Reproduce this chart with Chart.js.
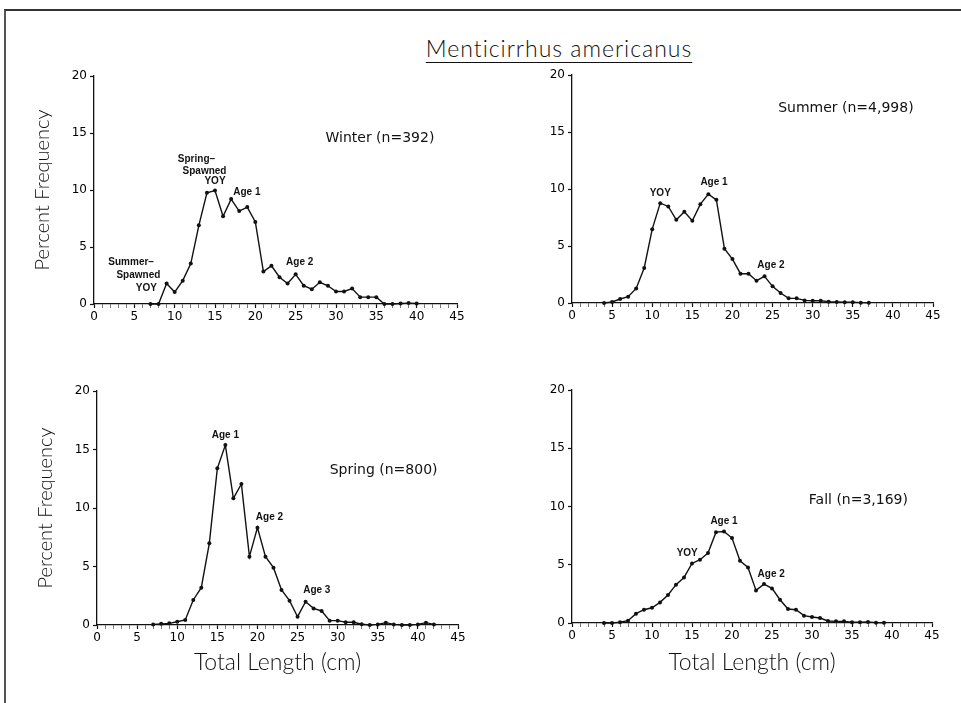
<!DOCTYPE html>
<html>
<head>
<meta charset="utf-8">
<title>Menticirrhus americanus</title>
<script src="https://cdn.jsdelivr.net/npm/chart.js@4.4.0/dist/chart.umd.min.js"></script>
<style>
  html, body { margin: 0; padding: 0; background: #fff; }
  body { width: 961px; height: 703px; position: relative; overflow: hidden; }
  #frame { position: absolute; left: 4px; top: 9px; width: 980px; height: 720px;
           border-top: 2px solid #333; border-left: 2px solid #555; }
  #title { position: absolute; left: 0; width: 1118px; top: 34px; text-align: center;
           font: 300 23px Lato, sans-serif; letter-spacing: 1px; color: #111; text-decoration: underline;
           text-underline-offset: 5px; text-decoration-thickness: 1px; }
  canvas { position: absolute; }
</style>
</head>
<body>
<div id="frame"></div>
<div id="title">Menticirrhus americanus</div>
<canvas id="winter"></canvas>
<canvas id="summer"></canvas>
<canvas id="spring"></canvas>
<canvas id="fall"></canvas>
<script>
// percent frequency by 1-cm total length class, first class given by *Start
const winterStart = 7;
const winterPct = [0, 0, 1.8, 1.05, 2.05, 3.55, 6.9, 9.75, 9.95, 7.7, 9.2, 8.15, 8.5, 7.2,
  2.85, 3.35, 2.35, 1.8, 2.6, 1.6, 1.3, 1.9, 1.6, 1.1, 1.1, 1.35, 0.6, 0.6, 0.6, 0, 0, 0.05, 0.08, 0.05];

const summerStart = 4;
const summerPct = [0, 0.09, 0.35, 0.55, 1.28, 3.07, 6.48, 8.76, 8.47, 7.3, 8.0, 7.21, 8.67, 9.55,
  9.05, 4.76, 3.85, 2.57, 2.57, 1.96, 2.34, 1.46, 0.88, 0.41, 0.41, 0.23, 0.2, 0.2, 0.12, 0.09,
  0.06, 0.06, 0.03, 0.02];

const springStart = 7;
const springPct = [0.05, 0.1, 0.14, 0.28, 0.43, 2.14, 3.19, 6.98, 13.39, 15.38, 10.83, 12.05, 5.84,
  8.32, 5.84, 4.9, 2.99, 2.08, 0.71, 1.99, 1.42, 1.2, 0.37, 0.37, 0.23, 0.23, 0.06, 0, 0.05, 0.2,
  0.05, 0, 0, 0.05, 0.2, 0.05];

const fallStart = 4;
const fallPct = [0, 0, 0.06, 0.2, 0.8, 1.14, 1.31, 1.77, 2.4, 3.29, 3.91, 5.11, 5.43, 6.0, 7.8,
  7.86, 7.29, 5.34, 4.77, 2.8, 3.34, 2.97, 2.0, 1.2, 1.14, 0.63, 0.51, 0.43, 0.17, 0.14, 0.14,
  0.06, 0.06, 0.09, 0.03, 0.02];

const xTicks = [0, 5, 10, 15, 20, 25, 30, 35, 40, 45];
const yTicks = [0, 5, 10, 15, 20];

// labels placed in data units (length, percent)
const winterNotes = [
  { text: 'Winter (n=392)', x: 28.7, y: 14.5, big: true },
  { text: 'Spring\u2013', x: 12.7, y: 12.7 },
  { text: 'Spawned', x: 13.7, y: 11.65 },
  { text: 'YOY', x: 15.0, y: 10.8 },
  { text: 'Age 1', x: 18.95, y: 9.8 },
  { text: 'Summer\u2013', x: 4.6, y: 3.67 },
  { text: 'Spawned', x: 5.5, y: 2.5 },
  { text: 'YOY', x: 6.5, y: 1.38 },
  { text: 'Age 2', x: 25.5, y: 3.64 }
];
const summerNotes = [
  { text: 'Summer (n=4,998)', x: 25.7, y: 17.1, big: true },
  { text: 'YOY', x: 11.0, y: 9.6 },
  { text: 'Age 1', x: 17.7, y: 10.6 },
  { text: 'Age 2', x: 24.8, y: 3.3 }
];
const springNotes = [
  { text: 'Spring (n=800)', x: 29.0, y: 13.2, big: true },
  { text: 'Age 1', x: 16.0, y: 16.2 },
  { text: 'Age 2', x: 21.5, y: 9.2 },
  { text: 'Age 3', x: 27.4, y: 3.0 }
];
const fallNotes = [
  { text: 'Fall (n=3,169)', x: 29.6, y: 10.5, big: true },
  { text: 'Age 1', x: 19.0, y: 8.7 },
  { text: 'YOY', x: 14.4, y: 6.0 },
  { text: 'Age 2', x: 24.9, y: 4.2 }
];

const INK = '#111';
const Y_W = 67, PAD_T = 16, PAD_R = 12;
const X_TITLE_SIZE = 23, X_TITLE_Y = 662;

function notesPlugin(notes) {
  return {
    id: 'notes',
    afterDatasetsDraw(chart) {
      const ctx = chart.ctx, x = chart.scales.x, y = chart.scales.y;
      ctx.save();
      ctx.fillStyle = INK;
      ctx.textBaseline = 'middle';
      notes.forEach(n => {
        ctx.font = n.big ? '14px "DejaVu Sans", sans-serif' : 'bold 10px "Liberation Sans", Arial, sans-serif';
        ctx.textAlign = n.big ? 'left' : 'center';
        ctx.fillText(n.text, x.getPixelForValue(n.x), y.getPixelForValue(n.y));
      });
      ctx.restore();
    }
  };
}

function drawPanel(id, start, values, notes, area, yTitle, xTitle) {
  const canvas = document.getElementById(id);
  // x axis box tall enough that its title centre lands on X_TITLE_Y
  const xh = xTitle ? Math.round(X_TITLE_Y + X_TITLE_SIZE * 0.6 + 4 - area.b) : 30;
  const w = area.r - area.l + Y_W + PAD_R;
  const h = PAD_T + (area.b - area.t) + xh;
  canvas.width = w; canvas.height = h;
  canvas.style.left = (area.l - Y_W) + 'px';
  canvas.style.top = (area.t - PAD_T) + 'px';
  canvas.style.width = w + 'px'; canvas.style.height = h + 'px';

  const tickFont = { family: '"DejaVu Sans", sans-serif', size: 12 };

  return new Chart(canvas, {
    type: 'line',
    data: {
      datasets: [{
        data: values.map((v, i) => ({ x: start + i, y: v })),
        borderColor: INK, backgroundColor: INK,
        borderWidth: 1.4, pointRadius: 2, pointHoverRadius: 2,
        pointBackgroundColor: INK, pointBorderWidth: 0, tension: 0, clip: false
      }]
    },
    options: {
      responsive: false, animation: false, devicePixelRatio: 1,
      layout: { padding: { top: PAD_T, right: PAD_R, left: 0, bottom: 0 } },
      plugins: { legend: { display: false }, tooltip: { enabled: false } },
      scales: {
        x: {
          type: 'linear', min: 0, max: 45,
          afterFit: s => { s.height = xh; },
          afterBuildTicks: s => { s.ticks = Array.from({ length: 46 }, (_, i) => ({ value: i })); },
          ticks: {
            autoSkip: false, maxRotation: 0, padding: 2, color: '#000', font: tickFont,
            callback: v => xTicks.includes(v) ? String(v) : ''
          },
          grid: {
            drawOnChartArea: false, tickLength: 4, color: INK,
            tickWidth: c => xTicks.includes(c.tick && c.tick.value) ? 1.2 : 0.8,
            tickColor: c => xTicks.includes(c.tick && c.tick.value) ? INK : '#555'
          },
          border: { display: true, color: INK, width: 1.3 },
          title: { display: xTitle, text: 'Total Length (cm)', color: '#111',
                   font: { family: 'Lato, sans-serif', size: X_TITLE_SIZE, weight: 300 },
                   padding: { top: 4, bottom: 4 } }
        },
        y: {
          min: 0, max: 20,
          afterFit: s => { s.width = Y_W; },
          afterBuildTicks: s => { s.ticks = yTicks.map(v => ({ value: v })); },
          ticks: { padding: 3, color: '#000', font: tickFont },
          grid: { drawOnChartArea: false, tickLength: 4, color: INK, tickWidth: 1.2 },
          border: { display: true, color: INK, width: 1.3 },
          title: { display: yTitle, text: 'Percent Frequency', color: '#111',
                   font: { family: 'Lato, sans-serif', size: 20, weight: 300 },
                   padding: { top: 4, bottom: 4 } }
        }
      }
    },
    plugins: [notesPlugin(notes)]
  });
}

drawPanel('winter', winterStart, winterPct, winterNotes, { l: 94, t: 76, r: 457, b: 304 }, true, false);
drawPanel('summer', summerStart, summerPct, summerNotes, { l: 572, t: 75, r: 933, b: 303 }, false, false);
drawPanel('spring', springStart, springPct, springNotes, { l: 97, t: 391, r: 458, b: 625 }, true, true);
drawPanel('fall', fallStart, fallPct, fallNotes, { l: 572, t: 390, r: 932, b: 623 }, false, true);
</script>
</body>
</html>
